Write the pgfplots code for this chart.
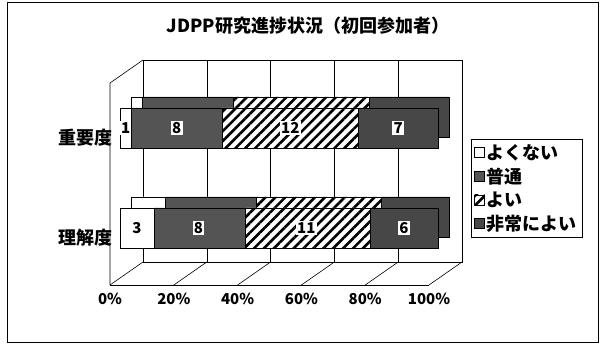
\documentclass[border=0pt]{standalone}
\usepackage{pgfplots}
\usepackage{pgfplotstable}
\pgfplotsset{compat=1.18}
\usepackage{fontspec}
\setmainfont{Noto Sans CJK JP}
\usetikzlibrary{patterns.meta}
\definecolor{darkA}{gray}{0.33}
\definecolor{darkB}{gray}{0.28}
\newcommand\fs[1]{\fontsize{#1}{#1}\selectfont}

% percentages of 28 respondents; y = vertical position of the category
\pgfplotstableread{
y   p1     p2     p3     p4
116 10.714 28.571 39.286 21.429
216 3.571  28.571 42.857 25.000
}\shares
% counts, placed at the middle of each segment
\pgfplotstableread{
x     y   n
5.36  116 3
24.64 116 8
58.57 116 11
89.29 116 6
1.79  216 1
17.86 216 8
53.57 216 12
87.50 216 7
}\counts

\pgfplotsset{
  s1/.style={fill=white, draw=black, line width=0.6pt},
  s2/.style={fill=darkA, draw=black, line width=0.6pt},
  s3/.style={fill=white, draw=black, line width=0.6pt,
     postaction={pattern={Lines[angle=45,distance=7pt,line width=2.6pt]}, pattern color=black}},
  s4/.style={fill=darkB, draw=black, line width=0.6pt},
  barbase/.style={
    xbar stacked, bar width=40pt, x=3.18pt, y=1pt,
    xmin=0, xmax=100, ymin=80, ymax=260, enlargelimits=false,
    clip=false, anchor=south west,
  },
}

\begin{document}
\begin{tikzpicture}
\useasboundingbox (0pt,0pt) rectangle (602pt,344pt);
\draw[line width=0.8pt] (7pt,2pt) rectangle (598pt,342pt);
\node[font=\bfseries\fs{18}] at (308pt,318pt) {JDPP研究進捗状況（初回参加者）};

% back wall with gridlines
\begin{axis}[at={(143pt,82pt)}, anchor=south west, x=3.19pt, y=1pt,
  xmin=0, xmax=100, ymin=0, ymax=202, enlargelimits=false,
  xtick={0,20,40,60,80,100}, xticklabels={}, ytick=\empty,
  xmajorgrids, grid style={black, line width=0.6pt},
  tick style={draw=none}, axis line style={line width=0.6pt}]
\end{axis}

% floor and left wall
\foreach \k in {0,...,5}{
  \draw[line width=0.6pt] ({(110+63.8*\k)*1pt},59pt) -- ({(143+63.8*\k)*1pt},82pt);
}
\draw[line width=0.6pt] (110pt,59pt) -- (110pt,261pt) -- (143pt,284pt);

% depth of the bars (top and side faces)
\begin{axis}[barbase, at={(131pt,91pt)}, hide axis]
\addplot[s1] table[x=p1, y=y] {\shares};
\addplot[s2] table[x=p2, y=y] {\shares};
\addplot[s3] table[x=p3, y=y] {\shares};
\addplot[s4] table[x=p4, y=y] {\shares};
\end{axis}

% front faces of the bars
\begin{axis}[barbase, at={(120pt,80pt)},
  axis line style={draw=none}, tick style={draw=none},
  xtick=\empty, ytick={116,216}, yticklabels={理解度,重要度},
  yticklabel style={font=\bfseries\fs{18}, yshift=-10pt, xshift=-4pt},
  legend style={at={(axis cs:110.4,205)}, anchor=north west, draw=black,
    line width=0.6pt, fill=white, font=\bfseries\fs{18}, row sep=3pt,
    inner sep=3pt, cells={anchor=west}},
  legend image code/.code={\draw[#1] (0pt,-5pt) rectangle (10pt,5pt);}]
\addplot[s1] table[x=p1, y=y] {\shares};
\addplot[s2] table[x=p2, y=y] {\shares};
\addplot[s3] table[x=p3, y=y] {\shares};
\addplot[s4] table[x=p4, y=y] {\shares};
\legend{よくない,普通,よい,非常によい}
\end{axis}

% count labels
\begin{axis}[at={(120pt,80pt)}, anchor=south west, x=3.18pt, y=1pt,
  xmin=0, xmax=100, ymin=80, ymax=260, enlargelimits=false, hide axis, clip=false]
\addplot[only marks, mark=none, point meta=explicit symbolic, nodes near coords,
  nodes near coords style={anchor=center, fill=white, inner sep=1.2pt,
    font=\bfseries\fs{15}}]
  table[x=x, y=y, meta=n] {\counts};
\end{axis}

% front edge of the floor with percent labels
\begin{axis}[at={(110pt,59pt)}, anchor=south west, x=3.19pt, y=1pt,
  xmin=0, xmax=100, ymin=0, ymax=1, enlargelimits=false,
  axis x line*=bottom, hide y axis, x axis line style={-, line width=0.6pt},
  xtick={0,20,40,60,80,100}, xticklabels={0\%,20\%,40\%,60\%,80\%,100\%},
  tick style={draw=none}, xticklabel style={font=\bfseries\fs{15}, yshift=-5pt}]
\end{axis}
\end{tikzpicture}
\end{document}
